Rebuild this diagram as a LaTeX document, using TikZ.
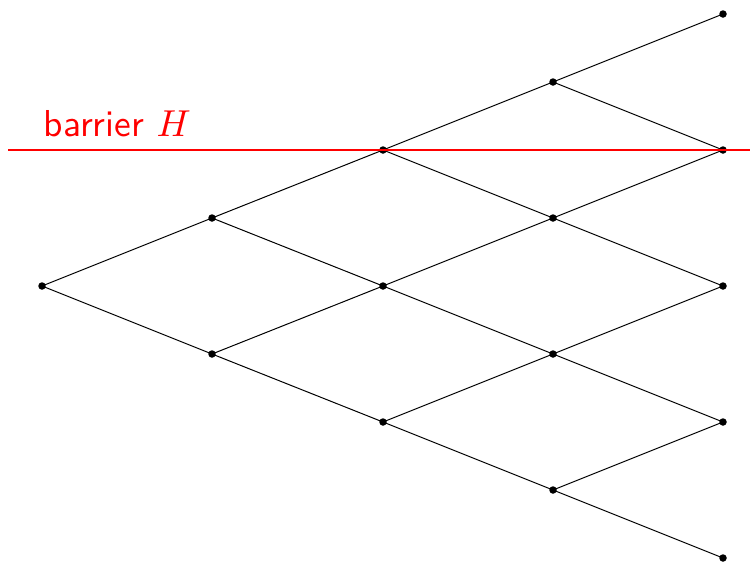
\documentclass[tikz,border=0pt]{standalone}
\usepackage{fontspec}
\begin{document}
\begin{tikzpicture}[x=1pt,y=-1pt,
  dot/.style={circle,fill=black,inner sep=0pt,minimum size=7.5pt},
  edge/.style={draw=black,line width=1pt}]
\useasboundingbox (0,0) rectangle (750,563);
% levels
\node[dot] (n00) at (42,286) {};
\node[dot] (n10) at (212,218) {};
\node[dot] (n11) at (212,354) {};
\node[dot] (n20) at (383,150) {};
\node[dot] (n21) at (383,286) {};
\node[dot] (n22) at (383,422) {};
\node[dot] (n30) at (553,82) {};
\node[dot] (n31) at (553,218) {};
\node[dot] (n32) at (553,354) {};
\node[dot] (n33) at (553,490) {};
\node[dot] (n40) at (723,14) {};
\node[dot] (n41) at (723,150) {};
\node[dot] (n42) at (723,286) {};
\node[dot] (n43) at (723,422) {};
\node[dot] (n44) at (723,558) {};
\foreach \a/\b in {n00/n10,n00/n11,
  n10/n20,n10/n21,n11/n21,n11/n22,
  n20/n30,n20/n31,n21/n31,n21/n32,n22/n32,n22/n33,
  n30/n40,n30/n41,n31/n41,n31/n42,n32/n42,n32/n43,n33/n43,n33/n44}
  \draw[edge] (\a.center) -- (\b.center);
\coordinate (bl) at (8,150);
\coordinate (br) at (750,150);
\draw[red,line width=2pt] (bl) -- (br);
\node[red,anchor=base west,inner sep=0pt,scale=3.75,font=\sffamily] (lab) at (43,136) {barrier $H$};
\end{tikzpicture}
\end{document}
